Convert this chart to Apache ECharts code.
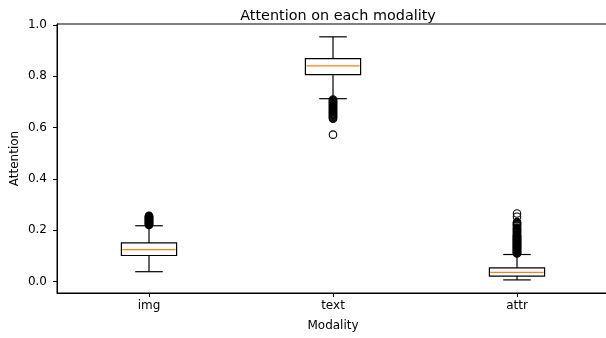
<!DOCTYPE html>
<html>
<head>
<meta charset="utf-8">
<script src="https://cdn.jsdelivr.net/npm/echarts@6/dist/echarts.min.js"></script>
<style>html,body{margin:0;padding:0;background:#fff}#c{width:606px;height:338px}</style>
</head>
<body>
<div id="c"></div>
<script>
var categories = ['img', 'text', 'attr'];
var whiskerLow  = [0.038, 0.712, 0.006];
var q1          = [0.101, 0.806, 0.021];
var median      = [0.124, 0.840, 0.035];
var q3          = [0.150, 0.868, 0.053];
var whiskerHigh = [0.217, 0.953, 0.105];
var yTicks = [0.0, 0.2, 0.4, 0.6, 0.8, 1.0];

var outliersImg = [0.220, 0.222, 0.224, 0.226, 0.228, 0.230, 0.232, 0.234, 0.236, 0.238, 0.240,
  0.242, 0.244, 0.246, 0.248, 0.250, 0.252, 0.254, 0.256];
var outliersText = [0.709, 0.706, 0.703, 0.700, 0.697, 0.694, 0.691, 0.688, 0.685, 0.682, 0.679,
  0.676, 0.673, 0.670, 0.667, 0.664, 0.661, 0.658, 0.655, 0.652, 0.649, 0.646, 0.643, 0.640,
  0.637, 0.634, 0.572];
var outliersAttr = [0.109, 0.111, 0.113, 0.115, 0.117, 0.119, 0.121, 0.123, 0.125, 0.127, 0.129,
  0.131, 0.133, 0.135, 0.137, 0.139, 0.141, 0.143, 0.145, 0.147, 0.149, 0.151, 0.153, 0.155,
  0.157, 0.159, 0.161, 0.163, 0.165, 0.167, 0.169, 0.171, 0.173, 0.175, 0.177, 0.179, 0.181,
  0.184, 0.188, 0.192, 0.195, 0.198, 0.201, 0.204, 0.207, 0.210, 0.216, 0.219, 0.222, 0.225,
  0.228, 0.231, 0.252, 0.265];

var boxData = categories.map(function (c, i) {
  return [i, whiskerLow[i], q1[i], median[i], q3[i], whiskerHigh[i]];
});
var outlierData = [];
[outliersImg, outliersText, outliersAttr].forEach(function (arr, i) {
  arr.forEach(function (v) { outlierData.push([i, v]); });
});

var chart = echarts.init(document.getElementById('c'), null, {renderer: 'canvas'});
var FONT = 'DejaVu Sans';
chart.setOption({
  animation: false,
  backgroundColor: '#fff',
  title: {
    text: 'Attention on each modality',
    left: 333, top: 4, textAlign: 'center',
    textStyle: {fontFamily: FONT, fontSize: 14.4, fontWeight: 'normal', color: '#000'}
  },
  grid: {left: 57, width: 552, top: 24, height: 269, outerBoundsMode: 'none', containLabel: false,
    show: true, borderColor: '#000', borderWidth: 1, backgroundColor: 'transparent'},
  xAxis: {
    type: 'category', data: categories, boundaryGap: true,
    name: 'Modality', nameLocation: 'middle', nameGap: 27, nameMoveOverlap: false,
    nameTextStyle: {fontFamily: FONT, fontSize: 12, color: '#000'},
    axisLine: {show: true, onZero: false, lineStyle: {color: '#000', width: 1}},
    axisTick: {show: true, alignWithLabel: true, length: 4, lineStyle: {color: '#000'}},
    axisLabel: {fontFamily: FONT, fontSize: 12, color: '#000', margin: 7},
    splitLine: {show: false}
  },
  yAxis: {
    type: 'value', min: -0.045, max: 1.003,
    name: 'Attention', nameLocation: 'middle', nameGap: 36, nameMoveOverlap: false,
    nameTextStyle: {fontFamily: FONT, fontSize: 12, color: '#000'},
    axisLine: {show: true, onZero: false, lineStyle: {color: '#000', width: 1}},
    axisTick: {show: true, length: 4, customValues: yTicks, lineStyle: {color: '#000'}},
    axisLabel: {fontFamily: FONT, fontSize: 12, color: '#000', margin: 10, customValues: yTicks,
      formatter: function (v) { return v.toFixed(1); }},
    splitLine: {show: false}
  },
  series: [
    {
      type: 'custom',
      data: boxData,
      z: 3,
      renderItem: function (params, api) {
        var idx = api.value(0);
        var band = api.size([1, 0])[0];
        var bw = band * 0.3;
        var cw = bw / 2;
        var pLow = api.coord([idx, api.value(1)]);
        var pQ1 = api.coord([idx, api.value(2)]);
        var pMed = api.coord([idx, api.value(3)]);
        var pQ3 = api.coord([idx, api.value(4)]);
        var pHigh = api.coord([idx, api.value(5)]);
        var x = pQ1[0];
        var ls = {stroke: '#000', lineWidth: 1.2, fill: null};
        return {
          type: 'group',
          children: [
            {type: 'line', shape: {x1: x, y1: pQ1[1], x2: x, y2: pLow[1]}, style: ls},
            {type: 'line', shape: {x1: x, y1: pQ3[1], x2: x, y2: pHigh[1]}, style: ls},
            {type: 'line', shape: {x1: x - cw / 2, y1: pLow[1], x2: x + cw / 2, y2: pLow[1]}, style: ls},
            {type: 'line', shape: {x1: x - cw / 2, y1: pHigh[1], x2: x + cw / 2, y2: pHigh[1]}, style: ls},
            {type: 'rect', shape: {x: x - bw / 2, y: pQ3[1], width: bw, height: pQ1[1] - pQ3[1]}, style: {stroke: '#000', lineWidth: 1.2, fill: 'none'}},
            {type: 'line', shape: {x1: x - bw / 2 + 1, y1: pMed[1], x2: x + bw / 2 - 1, y2: pMed[1]}, style: {stroke: '#ff7f0e', lineWidth: 1.2}}
          ]
        };
      }
    },
    {
      type: 'scatter',
      data: outlierData,
      symbol: 'circle',
      symbolSize: 7.5,
      z: 4,
      itemStyle: {color: 'rgba(0,0,0,0)', borderColor: '#000', borderWidth: 1.1, opacity: 1}
    }
  ]
});
</script>
</body>
</html>
